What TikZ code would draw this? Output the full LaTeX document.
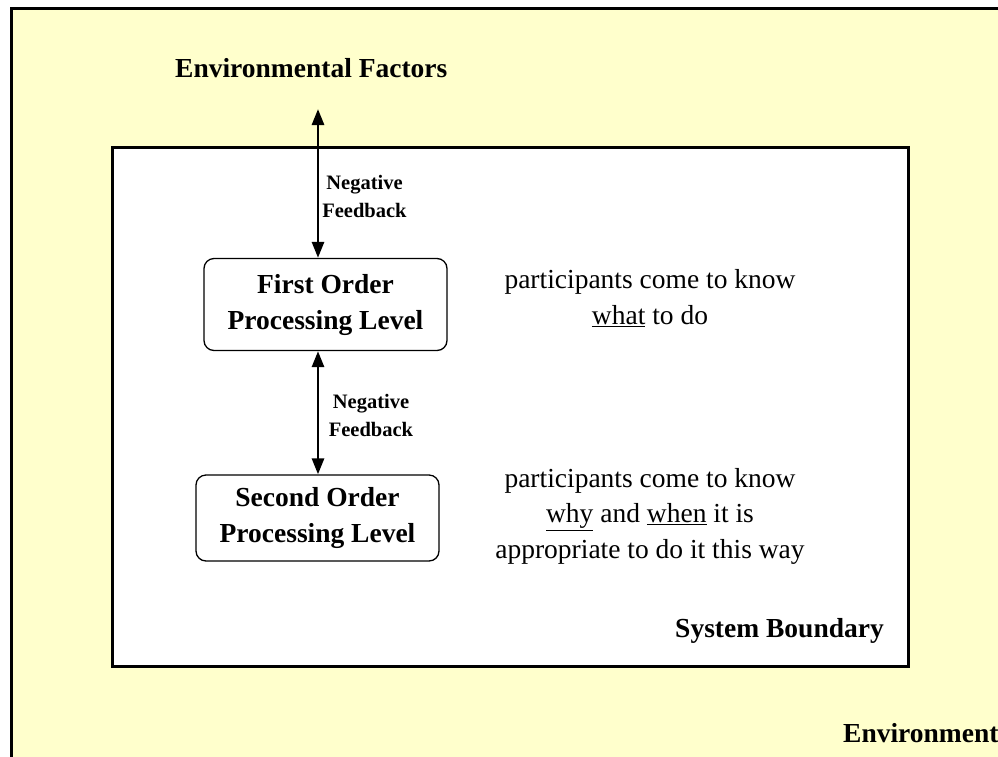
\documentclass[tikz,border=0pt]{standalone}
\usepackage{fontspec}
\setmainfont{Liberation Serif}
\usetikzlibrary{arrows.meta, positioning}
\definecolor{envFill}{HTML}{FFFFCC}

\begin{document}
\begin{tikzpicture}[x=1pt, y=-1pt,
  level/.style={draw, line width=1.3pt, rounded corners=10pt, align=center,
    font=\fontsize{27.5}{36}\selectfont\bfseries,
    minimum width=243pt, minimum height=92pt, inner sep=0pt},
  fb/.style={align=center, font=\fontsize{20.5}{28}\selectfont\bfseries, inner sep=0pt},
  note/.style={align=center, font=\fontsize{27.5}{35.5}\selectfont, inner sep=0pt},
  tag/.style={font=\fontsize{27.5}{33}\selectfont\bfseries, inner sep=0pt},
  feedback/.style={{Triangle[length=16pt,width=12pt]}-{Triangle[length=16pt,width=12pt]}, line width=2.8pt}]
  \useasboundingbox (0,0) rectangle (998,756);
  % environment and system boundary
  \draw[line width=3pt, fill=envFill] (11,8) rectangle (1020,780);
  \draw[line width=3pt, fill=white] (112,147) rectangle (908,666);

  \node[tag, anchor=base west] (envfactors) at (175,77) {Environmental Factors};
  \node[tag, anchor=base east] (sysbound) at (884,637) {System Boundary};
  \node[tag, anchor=base west] (environment) at (843,742) {Environment};

  % the two processing levels
  \node[level] (first) at (325.5,304.5) {First Order\\Processing Level};
  \node[level, minimum height=86pt] (second) at (317.5,518) {Second Order\\Processing Level};
  \coordinate (envtip) at (318,109);

  \draw[feedback] (first.north -| envtip) -- (envtip);
  \draw[feedback] (first.south -| envtip) -- (second.north -| envtip);

  \node[fb] (fbtop) at (364.5,196) {Negative\\Feedback};
  \node[fb] (fbmid) at (371,415) {Negative\\Feedback};

  \node[note] (know1) at (650,298) {participants come to know\\\underline{what} to do};
  \node[note] (know2) at (650,516) {participants come to know\\\underline{why} and \underline{when} it is\\appropriate to do it this way};
\end{tikzpicture}
\end{document}
